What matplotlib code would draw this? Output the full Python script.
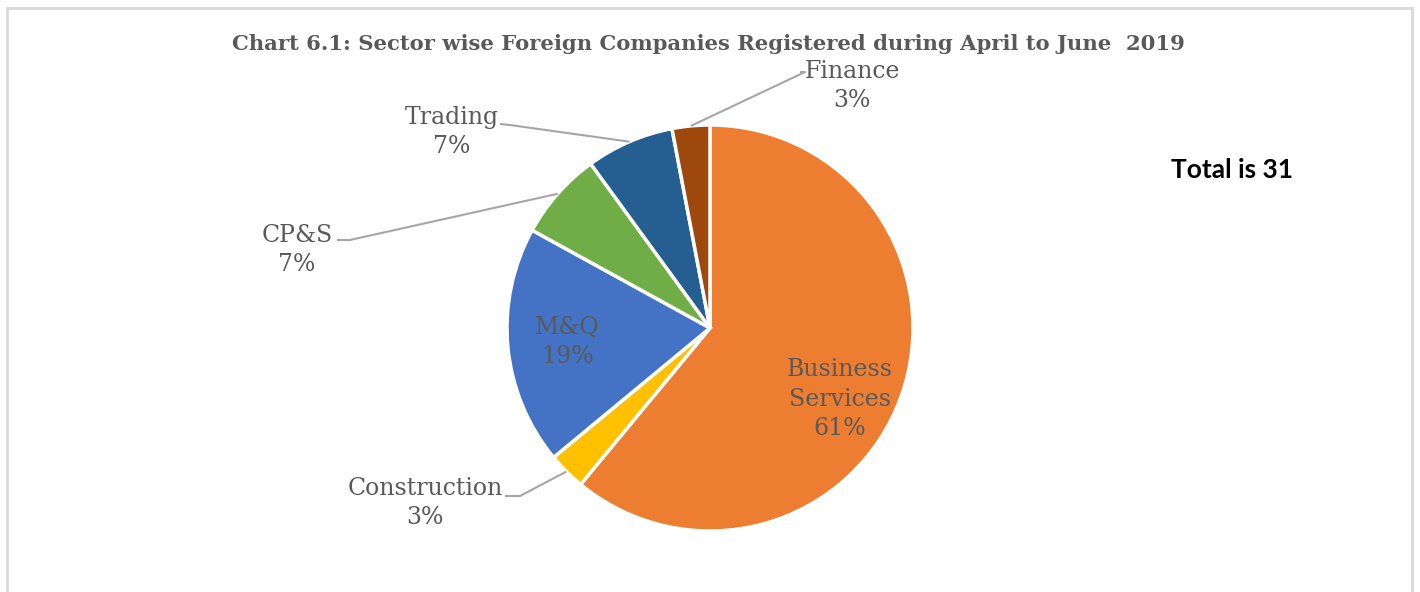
import numpy as np
import matplotlib.pyplot as plt
from matplotlib.patches import Rectangle

# --------------- DATA ---------------
sectors = ["Business\nServices", "Construction", "M&Q", "CP&S", "Trading", "Finance"]
shares = [61, 3, 19, 7, 7, 3]
colors = ["#ED7D31", "#FFC000", "#4472C4", "#70AD47", "#255E91", "#9E480E"]
title = "Chart 6.1: Sector wise Foreign Companies Registered during April to June  2019"
total_note = "Total is 31"

# --------------- LAYOUT (pixels) ---------------
W, H = 1420, 592
cx, cy, r = 710, H - 328, 203
text_color = "#595959"
line_color = "#A6A6A6"

# label centre (x, y) and where the leader line bends (None = inside)
label_pos = {
    "Business\nServices": ((840, H - 399), None),
    "Construction": ((425, H - 503), (520, H - 496)),
    "M&Q": ((567, H - 342), None),
    "CP&S": ((297, H - 250), (350, H - 240)),
    "Trading": ((452, H - 132), (510, H - 125)),
    "Finance": ((852, H - 86), (805, H - 72)),
}
text_end = {
    "Construction": (505, H - 496),
    "CP&S": (337, H - 240),
    "Trading": (500, H - 124),
    "Finance": (800, H - 72),
}

# --------------- PLOT ---------------
fig = plt.figure(figsize=(W / 100, H / 100), dpi=100)
ax = fig.add_axes([0, 0, 1, 1])

ax.add_patch(Rectangle((7, -10), 1405, H - 8 + 10, fill=False, edgecolor="#D9D9D9", linewidth=2))

wedges, _ = ax.pie(shares, colors=colors, startangle=90, counterclock=False,
                   center=(cx, cy), radius=r, frame=True,
                   wedgeprops=dict(edgecolor="white", linewidth=2.5))
ax.set_xlim(0, W)
ax.set_ylim(0, H)
ax.set_aspect("equal")
ax.axis("off")

for wedge, name, share in zip(wedges, sectors, shares):
    (lx, ly), joint = label_pos[name]
    ax.text(lx, ly, f"{name}\n{share}%", ha="center", va="center",
            fontsize=17, family="DejaVu Serif", color=text_color, linespacing=1.35)
    if joint is not None:
        mid = np.deg2rad((wedge.theta1 + wedge.theta2) / 2)
        sx, sy = cx + r * np.cos(mid), cy + r * np.sin(mid)
        ex, ey = text_end[name]
        ax.plot([sx, joint[0], ex], [sy, joint[1], ey], color=line_color, linewidth=1.5,
                solid_capstyle="butt")

ax.text(708, H - 44, title, ha="center", va="center", fontsize=15.2, fontweight="bold",
        family="DejaVu Serif", color=text_color)
ax.text(1232, H - 170, total_note, ha="center", va="center", fontsize=19,
        fontweight="bold", family="Lato", color="black")

fig.savefig("out.png", dpi=100)
